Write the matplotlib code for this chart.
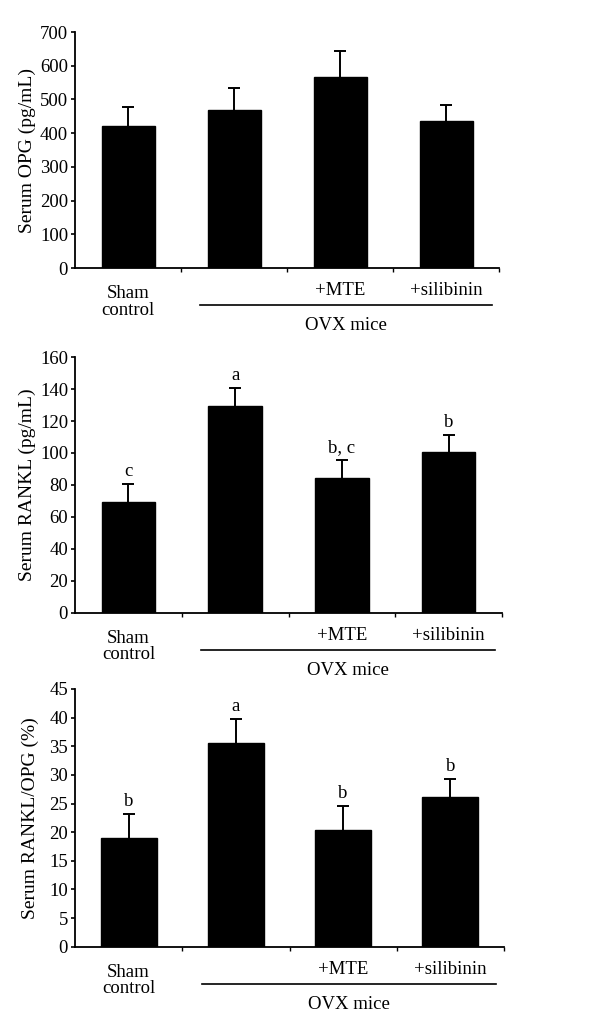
import matplotlib
matplotlib.use("Agg")
import matplotlib.pyplot as plt
from matplotlib.transforms import blended_transform_factory

plt.rcParams['font.family'] = ['Liberation Serif', 'DejaVu Serif']

groups = ["Sham\ncontrol", "", "+MTE", "+silibinin"]
group_label = "OVX mice"

opg_mean = [421, 470, 568, 435]
opg_err = [57, 63, 77, 48]

rankl_mean = [69.2, 129.3, 84.2, 100.9]
rankl_err = [11.4, 11.5, 11.5, 10.4]
rankl_sig = ["c", "a", "b, c", "b"]

ratio_mean = [19.0, 35.6, 20.3, 26.2]
ratio_err = [4.2, 4.2, 4.3, 3.0]
ratio_sig = ["b", "a", "b", "b"]

panels = [
    dict(mean=opg_mean, err=opg_err, sig=None, ylabel="Serum OPG (pg/mL)",
         ymax=700, step=100, rect=[0.125, 0.7398, 0.7067, 0.2291], bw=0.5, lx=36),
    dict(mean=rankl_mean, err=rankl_err, sig=rankl_sig, ylabel="Serum RANKL (pg/mL)",
         ymax=160, step=20, rect=[0.125, 0.4052, 0.7117, 0.2480], bw=0.5, lx=36),
    dict(mean=ratio_mean, err=ratio_err, sig=ratio_sig, ylabel="Serum RANKL/OPG (%)",
         ymax=45, step=5, rect=[0.125, 0.0809, 0.7150, 0.2502], bw=0.52, lx=39),
]

fig = plt.figure(figsize=(6.0, 10.3), dpi=100)
FS = 13.5

for p in panels:
    ax = fig.add_axes(p["rect"])
    n = len(p["mean"])
    xs = [i + 0.5 for i in range(n)]
    ax.bar(xs, p["mean"], width=p["bw"], color="black", edgecolor="black", zorder=2)
    ax.errorbar(xs, p["mean"], yerr=p["err"], fmt="none",
                ecolor="black", elinewidth=1.4, capsize=4, capthick=1.4, zorder=1)
    ax.set_xlim(0, n)
    ax.set_ylim(0, p["ymax"])
    ax.set_yticks(range(0, p["ymax"] + 1, p["step"]))
    ax.set_xticks(range(1, n + 1))
    ax.set_xticklabels([])
    for s in ["top", "right"]:
        ax.spines[s].set_visible(False)
    for s in ["left", "bottom"]:
        ax.spines[s].set_linewidth(1.3)
    ax.tick_params(axis="y", direction="out", length=3, width=1.2, labelsize=13.5, pad=2)
    ax.tick_params(axis="x", direction="out", length=3, width=1.0)
    ax.set_ylabel(p["ylabel"], fontsize=14)
    ax_w_px = p["rect"][2] * 600
    ax.yaxis.set_label_coords((p["lx"] - 75) / ax_w_px, 0.5)

    trans = blended_transform_factory(ax.transData, ax.transAxes)
    # category labels
    ax.annotate(groups[0], xy=(xs[0], 0), xycoords=trans, xytext=(0, -24.5),
                textcoords="offset points", ha="center", va="center",
                fontsize=FS, linespacing=0.95)
    for i in (2, 3):
        ax.annotate(groups[i], xy=(xs[i], 0), xycoords=trans, xytext=(0, -16.5),
                    textcoords="offset points", ha="center", va="center", fontsize=FS)
    # group bracket line
    x0, x1 = xs[1] - 0.32, xs[3] + 0.43
    line_y = -37 / (p["rect"][3] * 1030)
    ax.plot([x0, x1], [line_y, line_y], color="black", lw=1.2,
            transform=trans, clip_on=False)
    ax.annotate(group_label, xy=((x0 + x1) / 2, 0), xycoords=trans, xytext=(0, -41.5),
                textcoords="offset points", ha="center", va="center", fontsize=FS)

    if p["sig"]:
        for x, m, e, s in zip(xs, p["mean"], p["err"], p["sig"]):
            ax.annotate(s, xy=(x, m + e), xytext=(0, 3), textcoords="offset points",
                        ha="center", va="bottom", fontsize=FS)

fig.savefig("out.png", dpi=100)
